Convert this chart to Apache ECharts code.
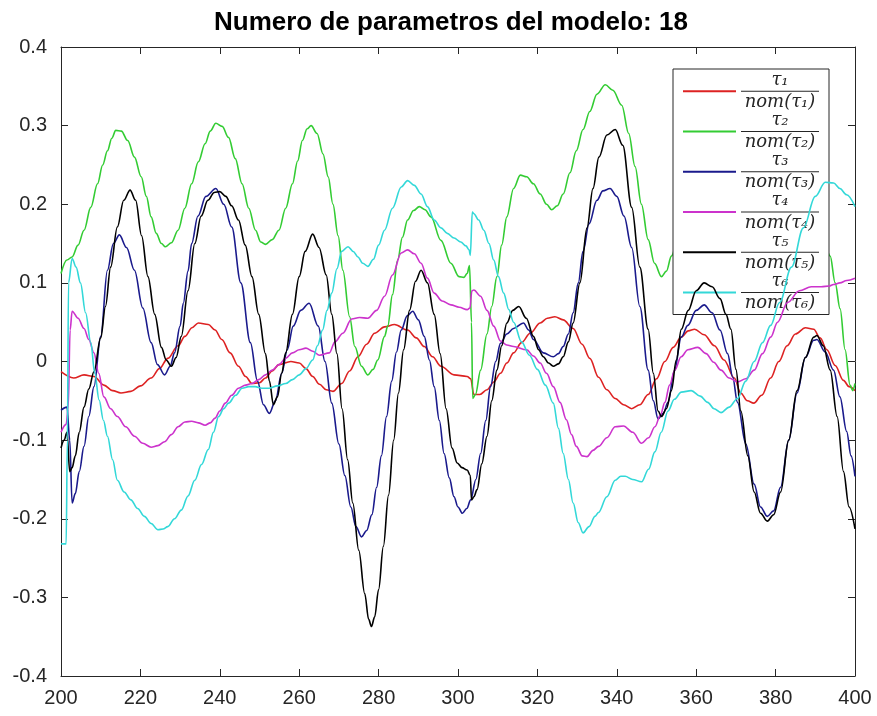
<!DOCTYPE html>
<html>
<head>
<meta charset="utf-8">
<script src="https://cdn.jsdelivr.net/npm/echarts@6/dist/echarts.min.js"></script>
<style>html,body{margin:0;padding:0;background:#fff;}#c{width:877px;height:716px;}</style>
</head>
<body>
<div id="c"></div>
<script>
const titleText = 'Numero de parametros del modelo: 18';
const xTicks = {min: 200, max: 400, interval: 20};
const yTicks = {min: -0.4, max: 0.4, interval: 0.1};
const seriesNames = ['tau1', 'tau2', 'tau3', 'tau4', 'tau5', 'tau6'];
const legendNum = ['τ₁', 'τ₂', 'τ₃', 'τ₄', 'τ₅', 'τ₆'];
const legendDen = ['nom(τ₁)', 'nom(τ₂)', 'nom(τ₃)', 'nom(τ₄)', 'nom(τ₅)', 'nom(τ₆)'];

const tau1 = [[200,-0.013],[203.2,-0.021],[205.8,-0.017],[208.3,-0.019],[210.8,-0.03],[213,-0.037],[215.1,-0.04],[217.6,-0.038],[220,-0.031],[222.7,-0.021],[224.8,-0.009],[226.9,0.004],[229.5,0.02],[231.2,0.032],[233,0.043],[234.6,0.049],[237.1,0.047],[238.8,0.04],[240.5,0.028],[242.6,0.011],[244.7,-0.006],[246.5,-0.019],[248.1,-0.028],[250,-0.027],[251.5,-0.021],[253.2,-0.012],[254.9,-0.004],[257.9,0],[260,-0.002],[261.7,-0.009],[263.4,-0.019],[265.1,-0.029],[266.8,-0.036],[268.5,-0.038],[270.7,-0.028],[272.7,-0.012],[274.8,0.006],[277,0.022],[279,0.036],[281.5,0.044],[284,0.047],[287.3,0.04],[289.5,0.03],[291.5,0.019],[293.6,0.006],[295.7,-0.006],[299,-0.017],[302.3,-0.019],[303.2,-0.022],[304,-0.042],[305.5,-0.042],[307.3,-0.036],[309,-0.026],[310.7,-0.015],[312.3,-0.002],[314,0.011],[316,0.024],[318.2,0.036],[320.7,0.049],[322.5,0.055],[324.4,0.057],[326.5,0.053],[329,0.042],[331.25,0.022],[333.2,0.004],[335.4,-0.02],[337.5,-0.036],[339.6,-0.047],[341.7,-0.055],[343.75,-0.06],[345.8,-0.055],[347.9,-0.042],[350,-0.022],[352.1,0],[354.2,0.018],[356.25,0.031],[358,0.039],[359.6,0.041],[362,0.034],[364.6,0.02],[367,0.002],[369.6,-0.021],[371.2,-0.04],[372.9,-0.05],[374.5,-0.053],[376.5,-0.043],[378.75,-0.021],[380.8,0],[382.9,0.02],[385,0.035],[387.5,0.043],[389.6,0.041],[391.2,0.03],[392.9,0.015],[395,-0.005],[397.1,-0.024],[398.5,-0.032],[400,-0.037]];

const tau2 = [[200,0.112],[201.5,0.129],[202.8,0.133],[204.3,0.148],[205.8,0.167],[207.5,0.196],[209.2,0.226],[210.5,0.25],[211.7,0.268],[212.8,0.284],[213.8,0.294],[215.2,0.293],[216.8,0.281],[218.5,0.26],[220.2,0.235],[221.5,0.21],[222.7,0.184],[224,0.163],[225.3,0.15],[226.3,0.146],[227.8,0.151],[229.5,0.167],[231.2,0.195],[232.9,0.226],[234.6,0.254],[236.3,0.277],[237.6,0.293],[239,0.303],[240.6,0.299],[242.2,0.285],[243.9,0.258],[245.6,0.226],[247.3,0.195],[249,0.167],[250.3,0.152],[251.5,0.149],[253.2,0.155],[254.9,0.167],[256.6,0.195],[258.3,0.226],[259.6,0.255],[260.8,0.281],[262,0.296],[263,0.3],[264.5,0.29],[266,0.264],[267.3,0.235],[268.5,0.2],[269.8,0.16],[271,0.116],[272.7,0.057],[274,0.019],[275.7,-0.006],[277.3,-0.017],[278.6,-0.01],[279.8,0.002],[281.5,0.032],[282.3,0.045],[283.5,0.085],[284.8,0.129],[286,0.158],[287.3,0.18],[288.8,0.192],[290.25,0.197],[291.7,0.193],[293.2,0.184],[295.7,0.154],[298.2,0.125],[300.25,0.108],[301.5,0.107],[302.3,0.112],[302.9,0.122],[303.4,0.05],[303.7,-0.047],[304.4,-0.042],[305.7,-0.011],[307.3,0.035],[308.5,0.07],[309.8,0.108],[311,0.148],[312.3,0.184],[314,0.22],[315.7,0.237],[317.3,0.235],[319,0.226],[320.7,0.213],[322.3,0.2],[323.6,0.193],[325,0.198],[326.5,0.213],[328.2,0.24],[329.8,0.268],[331.5,0.295],[333.2,0.318],[335,0.34],[337.1,0.352],[339,0.345],[341.25,0.326],[343,0.29],[344.6,0.248],[346.2,0.2],[347.9,0.155],[349.5,0.125],[351.25,0.108],[352.5,0.115],[353.75,0.134],[356,0.17],[359,0.21],[362,0.225],[365,0.21],[368,0.185],[371,0.17],[374,0.175],[377,0.2],[380,0.225],[383,0.235],[386,0.225],[389,0.2],[391.5,0.17],[393.75,0.134],[395,0.1],[396.25,0.067],[397.5,0.015],[398.75,-0.03],[399.4,-0.037],[400,-0.028]];

const tau3 = [[200,-0.062],[201.5,-0.058],[202.2,-0.1],[202.8,-0.18],[203.6,-0.168],[204.6,-0.14],[205.8,-0.108],[207,-0.07],[208.3,-0.032],[210,0.032],[211.7,0.116],[213.2,0.15],[214.7,0.161],[216.5,0.145],[218.5,0.116],[220.6,0.068],[222.7,0.024],[224.3,-0.004],[226.1,-0.017],[227.5,-0.006],[228.6,0.011],[230,0.045],[230.8,0.074],[232,0.115],[232.9,0.15],[234.5,0.185],[236.5,0.21],[239,0.22],[241,0.2],[243,0.171],[245.3,0.1],[247.7,0.024],[249.5,-0.025],[251,-0.055],[252.5,-0.066],[254,-0.05],[255.6,-0.015],[257,0.015],[258.5,0.045],[260.4,0.065],[262.5,0.074],[264.8,0.045],[266.5,0.0],[268.2,-0.053],[270,-0.105],[271.5,-0.145],[273,-0.185],[274.3,-0.21],[275.7,-0.223],[277,-0.215],[278.3,-0.195],[279.5,-0.16],[280.7,-0.12],[282,-0.07],[283.3,-0.025],[284.5,0.012],[285.7,0.04],[287.2,0.058],[288.6,0.064],[290,0.053],[291.5,0.032],[292.8,0.002],[294,-0.032],[295.3,-0.075],[296.5,-0.117],[297.8,-0.148],[299,-0.172],[300,-0.185],[301.1,-0.193],[302.2,-0.187],[303.2,-0.176],[304.5,-0.15],[305.7,-0.117],[307,-0.075],[308.2,-0.032],[309.5,0],[310.7,0.023],[312.3,0.035],[314,0.042],[316.5,0.049],[317.8,0.04],[319,0.028],[321.5,0.011],[324,0.006],[325.3,0.01],[326.5,0.019],[327.8,0.035],[329,0.062],[330.3,0.1],[331.5,0.14],[333,0.175],[335,0.205],[336.5,0.217],[338.3,0.22],[340,0.21],[341.8,0.185],[343.75,0.145],[345.8,0.07],[347.9,-0.011],[349.2,-0.05],[350.4,-0.073],[351.7,-0.066],[352.9,-0.052],[354.5,-0.012],[356.25,0.031],[357.9,0.046],[360,0.065],[362,0.072],[364,0.062],[366,0.04],[367.9,0.01],[369.2,-0.02],[370.4,-0.052],[372.5,-0.105],[374.6,-0.156],[376.2,-0.185],[377.9,-0.197],[379.5,-0.19],[381.25,-0.16],[383.3,-0.1],[385.4,-0.04],[387.5,0.005],[389.6,0.027],[390.4,0.028],[392.5,0.012],[394.6,-0.011],[396.2,-0.045],[397.9,-0.089],[399,-0.12],[400,-0.146]];

const tau4 = [[200,-0.09],[201.3,-0.08],[201.8,-0.06],[202.3,0.04],[202.8,0.064],[204.3,0.055],[205.8,0.042],[207,0.028],[208.3,0.011],[209.5,-0.015],[210.8,-0.045],[212.5,-0.06],[214.2,-0.07],[216.3,-0.083],[218.5,-0.095],[220.6,-0.104],[222.7,-0.109],[224.4,-0.107],[226.1,-0.102],[227.8,-0.093],[229.5,-0.083],[231.2,-0.077],[232.9,-0.076],[234.6,-0.078],[236.3,-0.081],[237.6,-0.078],[238.8,-0.072],[240,-0.063],[241.4,-0.053],[243,-0.043],[244.7,-0.034],[246.5,-0.03],[248.1,-0.028],[249.8,-0.023],[251.5,-0.017],[253.2,-0.011],[254.9,-0.004],[256.6,0.004],[258.3,0.011],[260,0.015],[261.7,0.017],[263.4,0.013],[265.1,0.008],[267.6,0.011],[269,0.025],[271,0.036],[273.2,0.054],[275.2,0.056],[277.3,0.055],[279.5,0.065],[281.5,0.083],[283.5,0.11],[285.7,0.138],[287.3,0.142],[289,0.137],[290.7,0.125],[292.3,0.106],[294,0.087],[296,0.077],[298.2,0.072],[300.3,0.069],[302.3,0.066],[303,0.068],[303.5,0.09],[304,0.091],[305.7,0.083],[307.3,0.065],[309,0.045],[310.7,0.026],[312.3,0.021],[314,0.019],[317.3,0.015],[319,0.007],[320.7,-0.002],[322.3,-0.015],[324,-0.032],[325.7,-0.052],[327.3,-0.074],[328.6,-0.093],[329.8,-0.108],[331.3,-0.12],[332.5,-0.121],[334,-0.113],[335.4,-0.108],[337.5,-0.097],[339.6,-0.083],[341.7,-0.082],[344,-0.09],[346.25,-0.104],[348,-0.097],[349.6,-0.083],[351,-0.068],[352.1,-0.052],[353.3,-0.03],[354.6,-0.011],[356.2,0.006],[357.9,0.015],[360.4,0.018],[362.5,0.01],[364.4,-0.001],[366.25,-0.011],[368.3,-0.021],[370.4,-0.026],[372.5,-0.022],[374.6,-0.011],[376.7,0.01],[378.75,0.031],[380.5,0.05],[383,0.075],[386,0.09],[389,0.095],[391.5,0.095],[393.5,0.096],[394.6,0.098],[396.2,0.1],[397.9,0.103],[400,0.106]];

const tau5 = [[200,-0.11],[200.8,-0.1],[201.5,-0.09],[202.2,-0.14],[202.8,-0.135],[203.6,-0.12],[204.6,-0.09],[205.8,-0.058],[207,-0.035],[208.3,-0.013],[210,0.03],[211.2,0.07],[212.5,0.12],[214.2,0.171],[215.8,0.205],[217.4,0.218],[218.8,0.205],[220.3,0.16],[221.9,0.108],[223.6,0.06],[225.3,0.018],[226.5,0.002],[227.8,-0.006],[229,0.005],[230.3,0.032],[232,0.09],[233.7,0.15],[235.3,0.185],[237,0.205],[238.6,0.215],[240,0.216],[241.5,0.21],[243,0.198],[244.7,0.18],[246.4,0.148],[248.1,0.108],[249.8,0.06],[251.5,0.01],[252.5,-0.025],[253.5,-0.055],[254.5,-0.045],[255.6,-0.015],[256.6,0.011],[258.3,0.06],[260,0.108],[261.5,0.14],[263.4,0.162],[265,0.145],[266.8,0.11],[268.2,0.06],[269.5,0.01],[270.8,-0.06],[272.2,-0.125],[273.5,-0.18],[275,-0.24],[276.5,-0.295],[277.5,-0.328],[278.2,-0.337],[279,-0.325],[280,-0.29],[281.2,-0.235],[282.5,-0.17],[283.8,-0.1],[285,-0.04],[286.3,0.015],[287.8,0.065],[289.3,0.102],[290.7,0.116],[292.3,0.1],[294,0.06],[295.5,0.01],[297,-0.06],[298.5,-0.11],[299.8,-0.129],[301,-0.135],[302.3,-0.138],[303.1,-0.145],[303.4,-0.176],[304,-0.172],[304.8,-0.163],[306,-0.13],[307.3,-0.095],[308.5,-0.05],[309.8,-0.011],[311,0.02],[312.3,0.049],[313.8,0.065],[315.3,0.07],[317.2,0.055],[319,0.032],[320.3,0.015],[321.5,0.006],[322.8,-0.002],[324,-0.006],[325.3,-0.003],[326.5,0.006],[327.8,0.025],[329,0.049],[330.7,0.1],[332.5,0.17],[334,0.22],[335.5,0.26],[337.5,0.288],[339.6,0.295],[341.5,0.275],[343.75,0.196],[345.8,0.12],[347.9,0.041],[349.2,-0.015],[350.4,-0.063],[351.25,-0.07],[352.5,-0.06],[353.75,-0.037],[355,0.002],[356.25,0.041],[358,0.065],[360,0.09],[362,0.1],[364,0.095],[366,0.08],[367.5,0.06],[368.75,0.041],[370,-0.01],[371.25,-0.063],[373,-0.12],[374.6,-0.166],[376.2,-0.193],[377.9,-0.203],[379.5,-0.195],[381.25,-0.166],[383.3,-0.1],[385.4,-0.037],[387.5,0.005],[389.6,0.031],[390.4,0.033],[392,0.02],[393.75,-0.011],[395.5,-0.07],[397.1,-0.14],[398.5,-0.185],[400,-0.213]];

const tau6 = [[200,-0.232],[201.3,-0.232],[201.6,-0.1],[201.9,0.1],[202.8,0.131],[203.8,0.12],[204.9,0.1],[206.2,0.062],[207.5,0.024],[208.5,-0.015],[209.6,-0.049],[210.7,-0.075],[211.7,-0.095],[213,-0.125],[214.2,-0.151],[215.9,-0.166],[217.6,-0.176],[219.3,-0.187],[221,-0.197],[222.7,-0.206],[224.4,-0.214],[225.7,-0.213],[226.9,-0.21],[228.6,-0.2],[230.3,-0.189],[232,-0.171],[233.7,-0.151],[235.4,-0.131],[237.1,-0.112],[238.4,-0.09],[239.7,-0.07],[241,-0.06],[242.2,-0.053],[244,-0.043],[245.6,-0.034],[247.3,-0.032],[248.9,-0.032],[250.6,-0.034],[252.4,-0.034],[254.5,-0.031],[256.6,-0.028],[258.3,-0.023],[260,-0.017],[261.7,-0.009],[263.4,0.002],[264.6,0.02],[265.9,0.04],[267,0.065],[268.2,0.087],[269.5,0.118],[270.7,0.14],[272.3,0.146],[273.6,0.14],[274.8,0.133],[276,0.125],[277.3,0.121],[278.7,0.13],[280,0.148],[281.5,0.167],[283.5,0.195],[285.7,0.222],[287.3,0.23],[289,0.224],[290.7,0.213],[292.3,0.197],[294,0.18],[295.7,0.17],[297.3,0.163],[299,0.157],[300.7,0.152],[302,0.147],[302.8,0.142],[303.1,0.135],[303.6,0.19],[304,0.188],[305.2,0.18],[306.5,0.167],[307.8,0.15],[309,0.129],[310.2,0.108],[311.5,0.087],[312.8,0.066],[314,0.05],[316,0.025],[318,0.008],[320,-0.01],[322,-0.03],[324,-0.053],[325.3,-0.085],[326.5,-0.117],[327.8,-0.15],[329,-0.18],[330.3,-0.205],[331.5,-0.218],[333,-0.21],[334.5,-0.197],[335.4,-0.192],[337.5,-0.172],[339.6,-0.151],[341,-0.146],[342.1,-0.146],[344,-0.15],[346.25,-0.153],[348,-0.137],[349.6,-0.115],[351.2,-0.09],[352.9,-0.063],[354.5,-0.048],[356.25,-0.039],[358.75,-0.037],[361,-0.044],[362.9,-0.052],[364.5,-0.06],[366.25,-0.065],[368.3,-0.058],[370.4,-0.047],[372.5,-0.025],[374.6,0],[376.7,0.024],[378.75,0.046],[381,0.075],[384,0.12],[387,0.17],[390,0.21],[392.5,0.228],[394.6,0.227],[396.2,0.22],[397.9,0.212],[400,0.197]];

const seriesData = [tau1, tau2, tau3, tau4, tau5, tau6];
const seriesColors = ['#dd2222', '#33cc33', '#1a1a8c', '#cc33cc', '#000000', '#33d8d8'];

const axisColor = '#262626';
const labelFont = {fontFamily: 'Liberation Sans, Arial, sans-serif', fontSize: 20, color: axisColor};
const fracFont = {fontFamily: 'DejaVu Serif, Liberation Serif, serif', fontStyle: 'italic', fontSize: 18, color: axisColor, width: 78, align: 'center'};

function xAxisDef(pos, showLabel) {
  return {
    type: 'value', position: pos, min: xTicks.min, max: xTicks.max, interval: xTicks.interval,
    axisLine: {show: true, onZero: false, lineStyle: {color: axisColor, width: 1}},
    axisTick: {show: true, inside: true, length: 7, lineStyle: {color: axisColor}},
    axisLabel: Object.assign({show: showLabel, margin: 12}, labelFont),
    splitLine: {show: false}
  };
}
function yAxisDef(pos, showLabel) {
  return {
    type: 'value', position: pos, min: yTicks.min, max: yTicks.max, interval: yTicks.interval,
    axisLine: {show: true, onZero: false, lineStyle: {color: axisColor, width: 1}},
    axisTick: {show: true, inside: true, length: 7, lineStyle: {color: axisColor}},
    axisLabel: Object.assign({show: showLabel, margin: 14}, labelFont),
    splitLine: {show: false}
  };
}

const chart = echarts.init(document.getElementById('c'), null, {renderer: 'canvas'});
chart.setOption({
  animation: false,
  backgroundColor: '#fff',
  title: {
    text: titleText, left: 214, top: 10, padding: 0,
    textStyle: {fontFamily: 'Liberation Sans, Arial, sans-serif', fontWeight: 'bold', fontSize: 26, color: '#000'}
  },
  grid: {left: 61, right: 22, top: 47, bottom: 40, containLabel: false},
  xAxis: [xAxisDef('bottom', true), xAxisDef('top', false)],
  yAxis: [yAxisDef('left', true), yAxisDef('right', false)],
  legend: {
    orient: 'vertical', left: 673, top: 69, selectedMode: false,
    itemWidth: 53, itemHeight: 14, itemGap: 0,
    padding: [2, 10, 2, 9],
    backgroundColor: '#fff', borderColor: axisColor, borderWidth: 1,
    itemStyle: {opacity: 0},
    data: seriesNames,
    formatter: function (name) {
      const i = seriesNames.indexOf(name);
      return '{n|' + legendNum[i] + '}\n{b| }\n{d|' + legendDen[i] + '}';
    },
    textStyle: {
      rich: {
        n: Object.assign({lineHeight: 19.25}, fracFont),
        b: {width: 78, height: 1, lineHeight: 3, backgroundColor: axisColor, fontSize: 1},
        d: Object.assign({lineHeight: 19.25}, fracFont)
      }
    }
  },
  series: seriesNames.map(function (n, i) {
    return {
      name: n, type: 'line', data: seriesData[i], xAxisIndex: 0, yAxisIndex: 0,
      symbol: 'none', showSymbol: false, smooth: 0.35, smoothMonotone: 'x',
      lineStyle: {color: seriesColors[i], width: 1.6}, itemStyle: {color: seriesColors[i]},
      clip: true, z: 2 + i
    };
  })
});
</script>
</body>
</html>
